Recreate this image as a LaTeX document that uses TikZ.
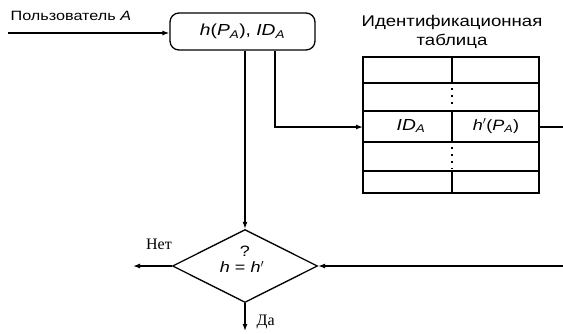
\documentclass[tikz,border=0pt]{standalone}
\usepackage{fontspec}
\setmainfont{Liberation Sans}
\newfontfamily\serifru{Liberation Serif}
\usetikzlibrary{shapes.geometric,arrows.meta}
\newcommand\fsz[1]{\fontsize{#1}{#1}\selectfont\addfontfeature{FakeStretch=1.2}}
\begin{document}
\begin{tikzpicture}[x=1pt,y=-1pt,line width=1.3pt,
  >={Latex[length=7pt,width=5pt]},
  lbl/.style={inner sep=0pt},
  hbox/.style={draw,rounded corners=9pt,minimum width=145pt,minimum height=37pt,inner sep=0pt},
  dia/.style={draw,diamond,minimum width=145pt,minimum height=73pt,inner sep=0pt},
  tline/.style={line width=1.3pt},
  dotline/.style={line width=2pt,dash pattern=on 2pt off 5pt}]
\useasboundingbox (0,0) rectangle (563,333);
% user input
\node[lbl,anchor=west,font=\fsz{13.5}] (user) at (10,16) {Пользователь \textit{A}};
\coordinate (ustart) at (8,33);
\node[hbox,font=\fsz{16}] (hb) at (242.5,31.5) {\textit{h}(\textit{P}\textsubscript{\textit{A}}), \textit{ID}\textsubscript{\textit{A}}};
\draw[->] (ustart) -- (ustart -| hb.west);
% table
\node[lbl,font=\fsz{15.5}] (title1) at (452,22) {Идентификационная};
\node[lbl,font=\fsz{15.5}] (title2) at (452,41) {таблица};
\coordinate (tnw) at (363,57);
\coordinate (tse) at (539,193);
\draw[tline] (tnw) rectangle (tse);
\draw[tline] (363,83) -- (539,83);
\draw[tline] (363,111) -- (539,111);
\draw[tline] (363,142) -- (539,142);
\draw[tline] (363,171) -- (539,171);
\draw[tline] (452,57) -- (452,83);
\draw[tline] (452,111) -- (452,142);
\draw[tline] (452,171) -- (452,193);
\draw[dotline] (452,88) -- (452,108);
\draw[dotline] (452,147) -- (452,169);
\node[lbl,font=\fsz{16}] (ida) at (411,126) {\textit{ID}\textsubscript{\textit{A}}};
\node[lbl,font=\fsz{15}] (hpa) at (496,126) {\textit{h}$'$(\textit{P}\textsubscript{\textit{A}})};
\coordinate (rowin) at (363,127);
\coordinate (rowout) at (539,127);
\coordinate (rowend) at (563,127);
% diamond
\node[dia] (d) at (245,266) {};
\node[lbl,font=\fsz{15}] (q) at (245,251) {?};
\node[lbl,font=\fsz{15}] (eq) at (242,267) {\textit{h} = \textit{h}$'$};
\coordinate (retin) at (563,266);
\coordinate (noend) at (133,266);
\coordinate (yesend) at (245,331);
\node[lbl,font=\serifru\fontsize{16}{16}\selectfont] (no) at (159,244) {Нет};
\node[lbl,font=\serifru\fontsize{16}{16}\selectfont,anchor=west] (yes) at (256,322) {Да};
% connectors
\draw[->] ([xshift=2.5pt]hb.south) -- (d.north);
\draw[->] ([xshift=32.5pt]hb.south) |- (rowin);
\draw (rowout) -- (rowend);
\draw[->] (retin) -- (d.east);
\draw[->] (d.west) -- (noend);
\draw[->] (d.south) -- (yesend);
\end{tikzpicture}
\end{document}
